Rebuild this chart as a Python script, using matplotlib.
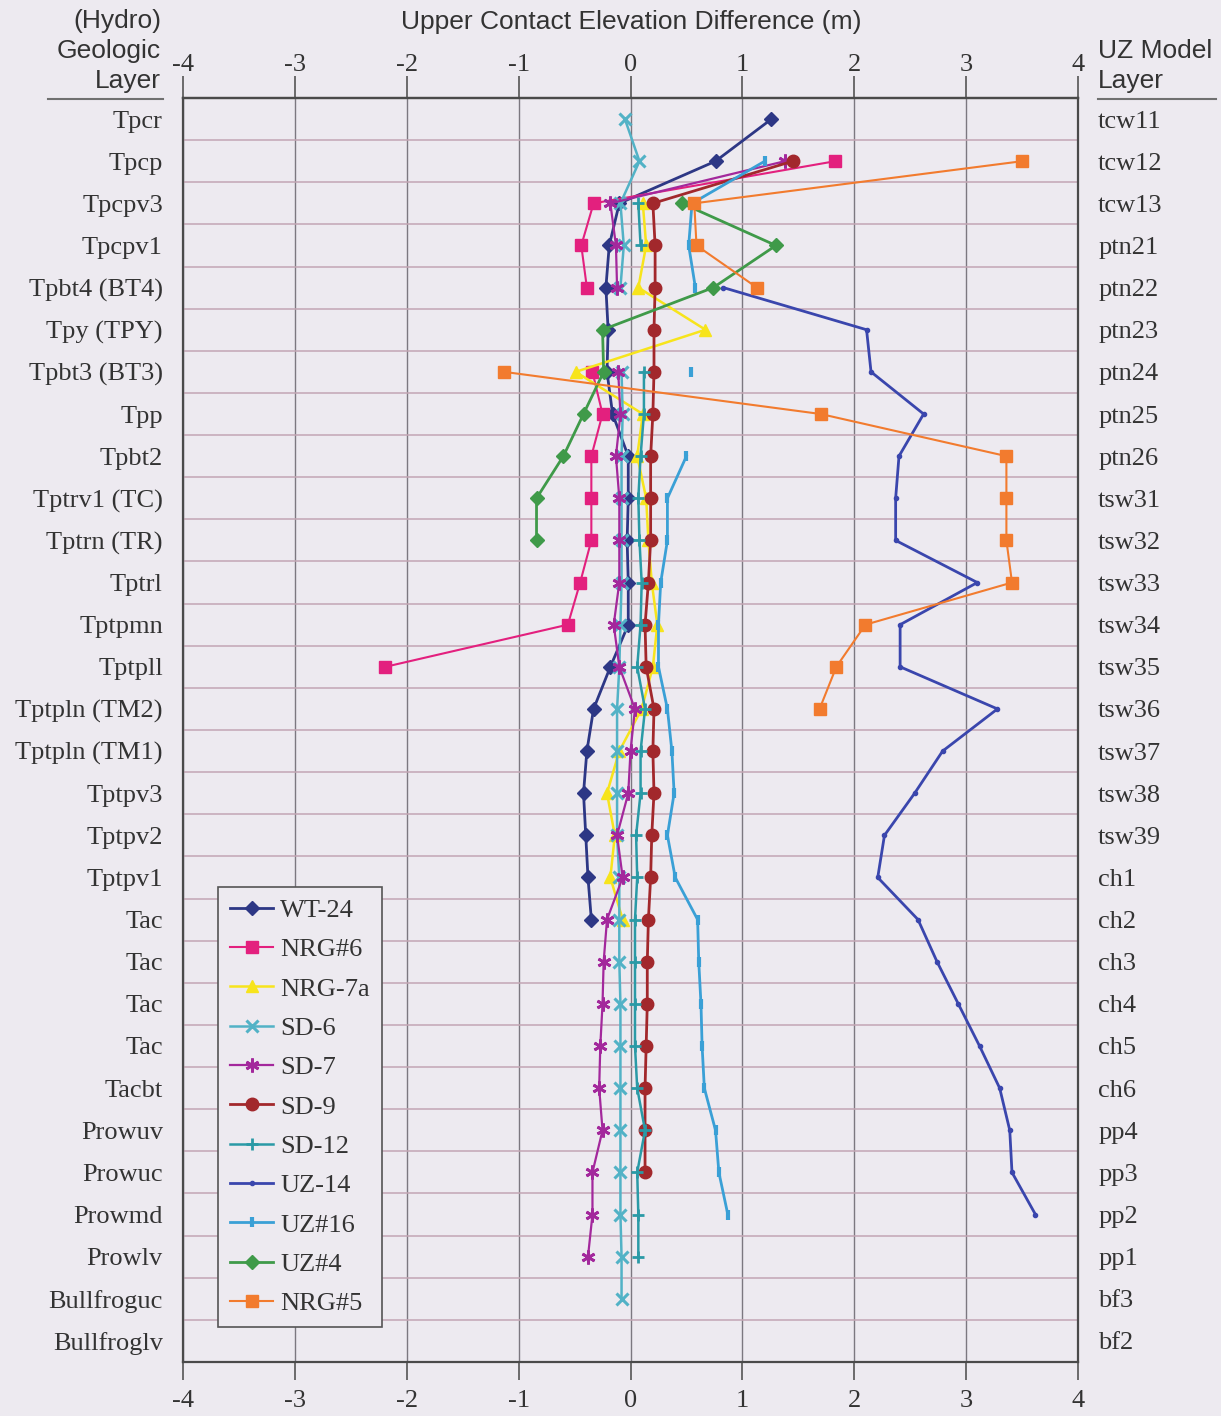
import numpy as np
import matplotlib
matplotlib.use("Agg")
import matplotlib.pyplot as plt
from matplotlib.lines import Line2D

nan = np.nan

geo_layers = ["Tpcr", "Tpcp", "Tpcpv3", "Tpcpv1", "Tpbt4 (BT4)", "Tpy (TPY)", "Tpbt3 (BT3)",
              "Tpp", "Tpbt2", "Tptrv1 (TC)", "Tptrn (TR)", "Tptrl", "Tptpmn", "Tptpll",
              "Tptpln (TM2)", "Tptpln (TM1)", "Tptpv3", "Tptpv2", "Tptpv1", "Tac", "Tac",
              "Tac", "Tac", "Tacbt", "Prowuv", "Prowuc", "Prowmd", "Prowlv", "Bullfroguc",
              "Bullfroglv"]
uz_layers = ["tcw11", "tcw12", "tcw13", "ptn21", "ptn22", "ptn23", "ptn24", "ptn25", "ptn26",
             "tsw31", "tsw32", "tsw33", "tsw34", "tsw35", "tsw36", "tsw37", "tsw38", "tsw39",
             "ch1", "ch2", "ch3", "ch4", "ch5", "ch6", "pp4", "pp3", "pp2", "pp1", "bf3", "bf2"]
x_ticks = [-4, -3, -2, -1, 0, 1, 2, 3, 4]

def pad(vals):
    v = [nan if a is None else a for a in vals]
    return np.array(v + [nan] * (30 - len(v)), dtype=float)

N = None
wt24 = pad([1.26, 0.76, -0.10, -0.19, -0.22, -0.20, -0.21, -0.16, -0.02, -0.02, -0.03, -0.02,
            -0.02, -0.18, -0.33, -0.39, -0.42, -0.40, -0.38, -0.35])
nrg6 = pad([N, 1.83, -0.33, -0.44, -0.39, N, -0.34, -0.25, -0.35, -0.35, -0.35, -0.45, -0.56, -2.19])
nrg7a = pad([N, N, 0.11, 0.14, 0.07, 0.67, -0.49, 0.11, 0.06, 0.14, 0.16, 0.19, 0.24, 0.20,
             0.10, -0.10, -0.21, -0.14, -0.18, -0.07])
sd6 = pad([-0.05, 0.08, -0.09, -0.06, -0.09, N, -0.08, -0.07, -0.08, -0.08, -0.08, -0.08, -0.09,
           -0.10, -0.12, -0.12, -0.12, -0.12, -0.10, -0.10, -0.10, -0.09, -0.09, -0.09, -0.09,
           -0.09, -0.09, -0.08, -0.08])
sd7 = pad([N, 1.38, -0.18, -0.13, -0.12, N, -0.11, -0.09, -0.13, -0.10, -0.10, -0.10, -0.15,
           -0.10, 0.04, 0.00, -0.02, -0.12, -0.07, -0.21, -0.24, -0.25, -0.27, -0.28, -0.25,
           -0.34, -0.34, -0.38])
sd9 = pad([N, 1.45, 0.20, 0.22, 0.22, 0.21, 0.21, 0.20, 0.18, 0.18, 0.18, 0.16, 0.13, 0.14,
           0.21, 0.20, 0.21, 0.19, 0.18, 0.16, 0.15, 0.15, 0.14, 0.13, 0.13, 0.13])
sd12 = pad([N, N, 0.07, 0.09, N, N, 0.12, 0.12, 0.09, 0.07, 0.08, 0.10, 0.09, 0.06, 0.13, 0.09,
            0.09, 0.05, 0.06, 0.04, 0.04, 0.04, 0.04, 0.06, 0.13, 0.06, 0.07, 0.07])
uz14 = pad([N, N, N, N, 0.83, 2.11, 2.15, 2.62, 2.40, 2.37, 2.37, 3.10, 2.41, 2.41, 3.28, 2.79,
            2.54, 2.27, 2.21, 2.57, 2.74, 2.93, 3.12, 3.30, 3.39, 3.41, 3.62])
uz16 = pad([N, 1.20, 0.55, 0.52, 0.58, N, 0.54, N, 0.50, 0.33, 0.33, 0.27, 0.25, 0.25, 0.33,
            0.37, 0.39, 0.33, 0.40, 0.60, 0.61, 0.63, 0.64, 0.66, 0.76, 0.79, 0.87])
uz4 = pad([N, N, 0.46, 1.30, 0.74, -0.25, -0.24, -0.42, -0.60, -0.84, -0.84])
nrg5 = pad([N, 3.50, 0.57, 0.59, 1.13, N, -1.13, 1.70, 3.36, 3.36, 3.36, 3.41, 2.10, 1.84, 1.69])

series_names = ["WT-24", "NRG#6", "NRG-7a", "SD-6", "SD-7", "SD-9", "SD-12", "UZ-14",
                "UZ#16", "UZ#4", "NRG#5"]
series_vals = [wt24, nrg6, nrg7a, sd6, sd7, sd9, sd12, uz14, uz16, uz4, nrg5]

styles = {
    "WT-24": dict(color="#2d3785", marker="D", ms=7, lw=2.0),
    "NRG#6": dict(color="#e3207e", marker="s", ms=9, lw=1.5),
    "NRG-7a": dict(color="#f7e41c", marker="^", ms=9, lw=1.8),
    "SD-6": dict(color="#52b2c6", marker="x", ms=8, lw=1.8, mew=2.2),
    "SD-7": dict(color="#a3289c", marker=(6, 2, 0), ms=10, lw=1.6, mew=2.0),
    "SD-9": dict(color="#a2282c", marker="o", ms=9, lw=2.0),
    "SD-12": dict(color="#2a9aa6", marker="+", ms=9, lw=1.8, mew=2.0),
    "UZ-14": dict(color="#3a46ad", marker="o", ms=3, lw=2.0),
    "UZ#16": dict(color="#3aa0d6", marker="|", ms=7, lw=2.0, mew=3),
    "UZ#4": dict(color="#3f9a49", marker="D", ms=7, lw=2.0),
    "NRG#5": dict(color="#f27b2e", marker="s", ms=9, lw=1.5),
}

bg = "#edeaf0"
txt = "#333333"
W, H = 1221, 1416
fig = plt.figure(figsize=(W / 100, H / 100), dpi=100, facecolor=bg)
L, R, T, B = 183, 1078, 98, 1362
ax = fig.add_axes([L / W, 1 - B / H, (R - L) / W, (B - T) / H], facecolor=bg)

yidx = np.arange(len(geo_layers))
for name, vals in zip(series_names, series_vals):
    st = dict(styles[name])
    ax.plot(vals, yidx, label=name, color=st.pop("color"), marker=st.pop("marker"),
            markersize=st.pop("ms"), linewidth=st.pop("lw"),
            markeredgewidth=st.pop("mew", 1.0), zorder=3)

ax.set_xlim(-4, 4)
ax.set_ylim(len(geo_layers) - 0.5, -0.5)
ax.set_xticks(x_ticks)
ax.set_xticklabels([str(t) for t in x_ticks])
ax.set_yticks(yidx)
ax.set_yticklabels(geo_layers)
ax.set_yticks(np.arange(0.5, len(geo_layers) - 1, 1.0), minor=True)

serif = "Liberation Serif"
sans = "Liberation Sans"
ax.tick_params(axis="x", which="major", direction="out", length=13, width=1.2, color="#555555",
               top=False, bottom=True, labeltop=False, labelbottom=True, labelsize=19, pad=7,
               labelcolor=txt)
ax.tick_params(axis="y", which="both", length=0, pad=14.5, labelsize=19, labelcolor=txt)
for lab in ax.get_xticklabels() + ax.get_yticklabels():
    lab.set_fontfamily(serif)

sec = ax.secondary_xaxis("top")
sec.set_xticks(x_ticks)
sec.set_xticklabels([str(t) for t in x_ticks], fontfamily=serif)
sec.tick_params(axis="x", direction="out", length=16, width=1.2, color="#555555",
                labelsize=19, pad=0, labelcolor=txt)
sec.spines["top"].set_color("#4a4a4a")
sec.spines["top"].set_linewidth(1.6)

ax.grid(axis="x", which="major", color="#7c7880", linewidth=1.0, zorder=0)
ax.grid(axis="y", which="minor", color="#c3a6b4", linewidth=1.1, zorder=0)
ax.grid(axis="y", which="major", visible=False)
for sp in ax.spines.values():
    sp.set_color("#4a4a4a")
    sp.set_linewidth(1.6)

ax2 = ax.twinx()
ax2.set_ylim(ax.get_ylim())
ax2.set_yticks(yidx)
ax2.set_yticklabels(uz_layers, fontfamily=serif)
ax2.tick_params(axis="y", length=0, pad=14.5, labelsize=19, labelcolor=txt)
for sp in ax2.spines.values():
    sp.set_visible(False)

leg = ax.legend(loc="lower left", bbox_to_anchor=((218 - L) / (R - L), (B - 1327) / (B - T)),
                frameon=True, fancybox=False, edgecolor="#555555", facecolor=bg,
                framealpha=1.0, prop={"family": serif, "size": 19}, handlelength=1.65,
                labelspacing=0.6, borderpad=0.45, handletextpad=0.25, borderaxespad=0)
leg.get_frame().set_linewidth(1.2)
for t in leg.get_texts():
    t.set_color(txt)

def ftext(xp, yp, s, ha):
    fig.text(xp / W, 1 - yp / H, s, ha=ha, va="center", fontsize=19, fontfamily=sans, color=txt)

ftext(631, 22, "Upper Contact Elevation Difference (m)", "center")
ftext(161, 21, "(Hydro)", "right")
ftext(161, 51, "Geologic", "right")
ftext(161, 81, "Layer", "right")
ftext(1098, 51, "UZ Model", "left")
ftext(1098, 81, "Layer", "left")
fig.add_artist(Line2D([48 / W, 163 / W], [1 - 99 / H, 1 - 99 / H], color="#707070", lw=1.5))
fig.add_artist(Line2D([1098 / W, 1216 / W], [1 - 99 / H, 1 - 99 / H], color="#707070", lw=1.5))

fig.savefig("out.png", dpi=100, facecolor=bg)
